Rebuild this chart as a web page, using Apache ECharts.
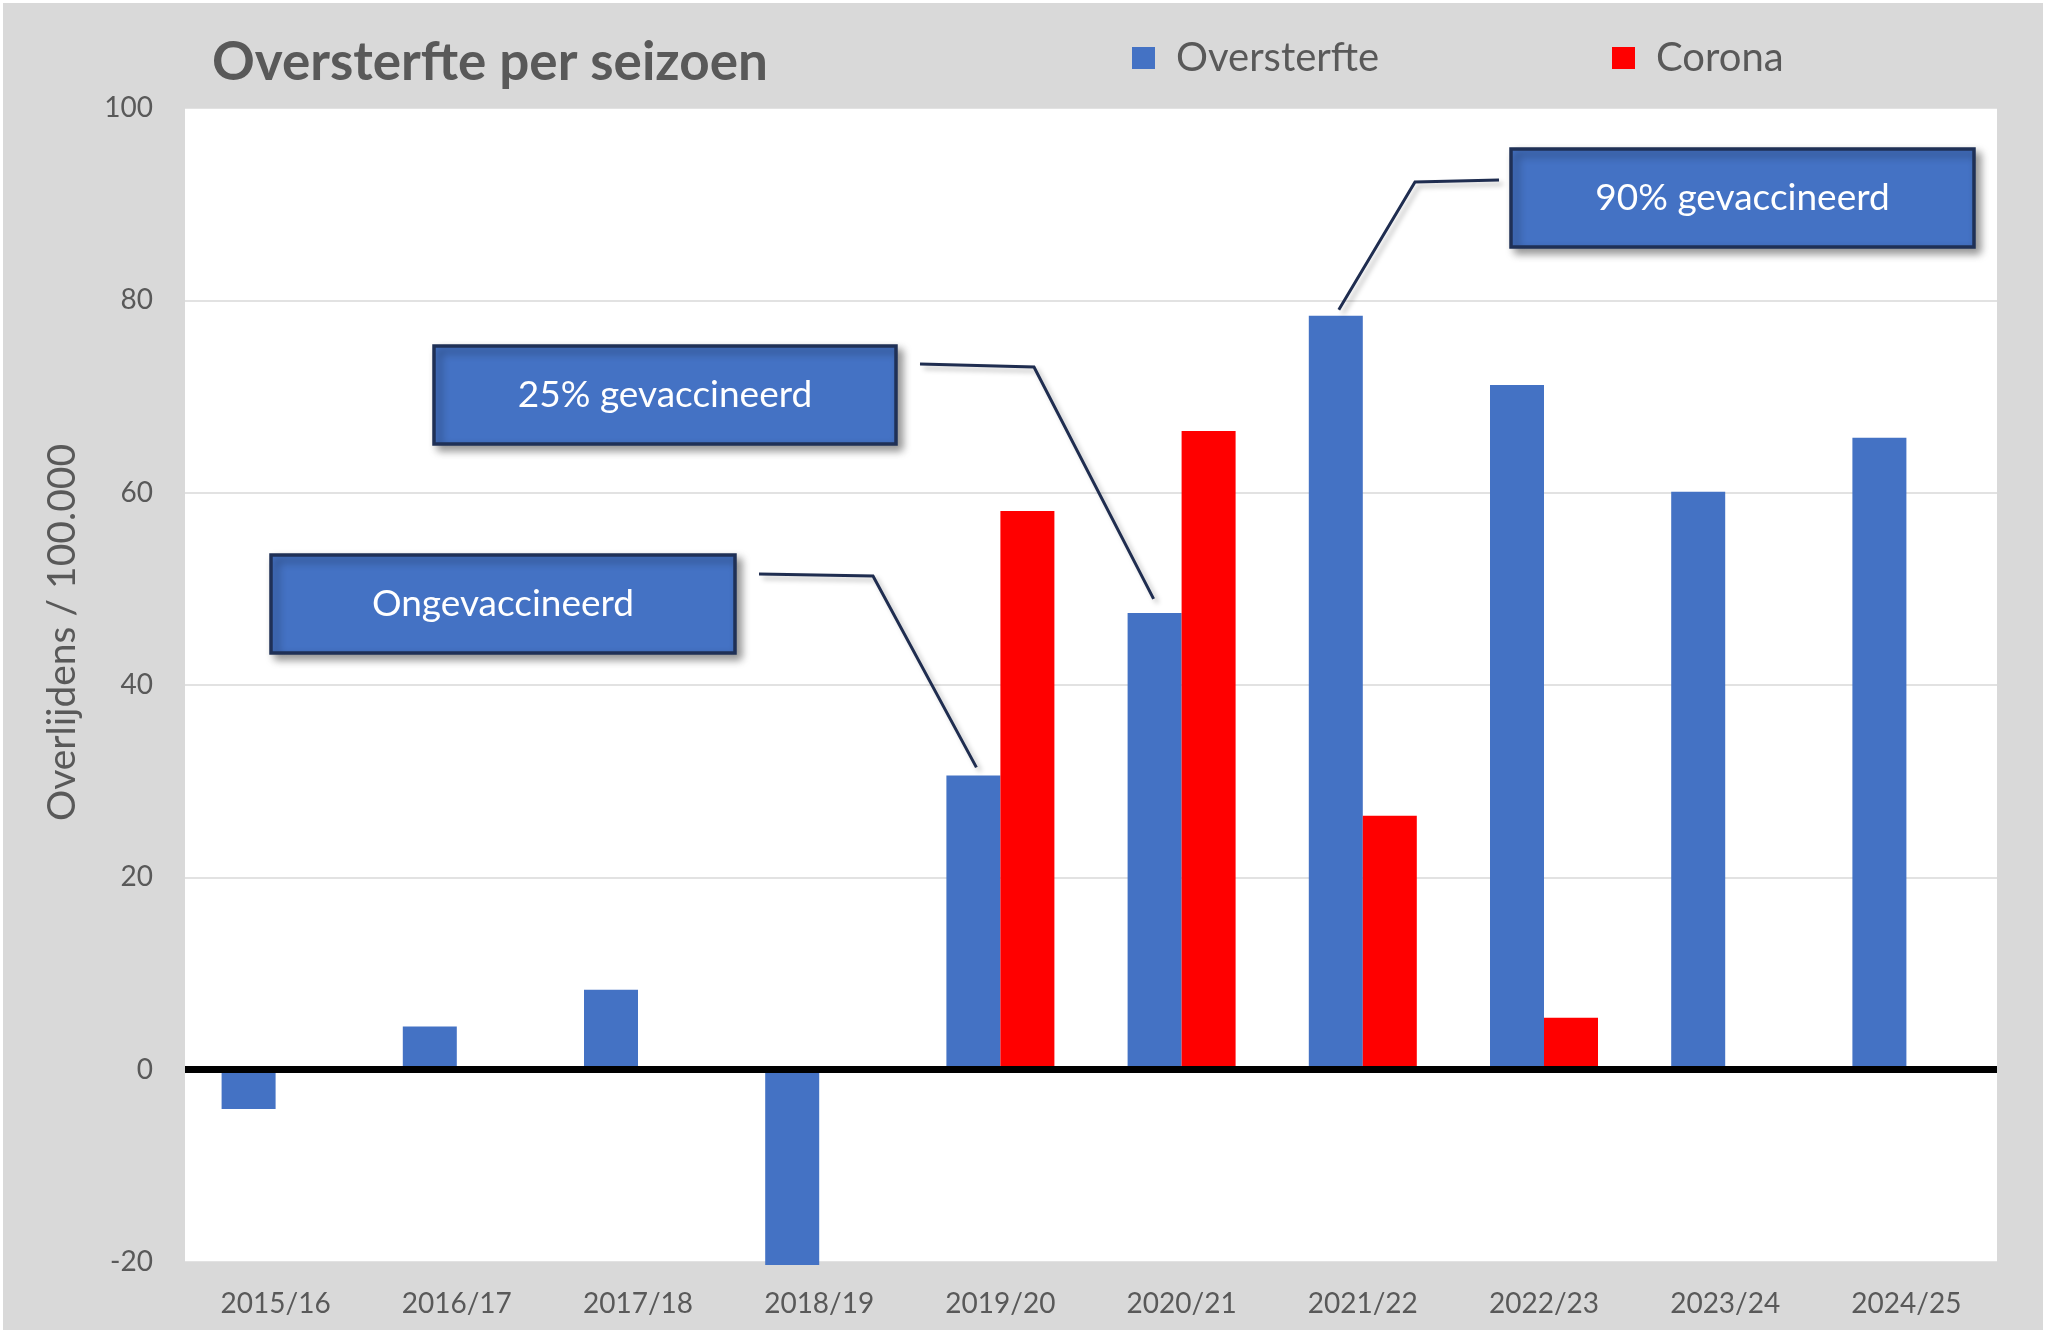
<!DOCTYPE html>
<html>
<head>
<meta charset="utf-8">
<script src="https://cdn.jsdelivr.net/npm/echarts@6/dist/echarts.min.js"></script>
<style>
  html, body { margin: 0; padding: 0; background: #ffffff; width: 2048px; height: 1335px; overflow: hidden; }
  #chart { position: absolute; left: 3px; top: 3px; width: 2040px; height: 1327px; }
</style>
</head>
<body>
<div id="chart"></div>
<script>
const categories = ['2015/16', '2016/17', '2017/18', '2018/19', '2019/20', '2020/21', '2021/22', '2022/23', '2023/24', '2024/25'];
const oversterfte = [-4.1, 4.5, 8.3, -20.3, 30.6, 47.5, 78.4, 71.2, 60.1, 65.7];
const corona = [null, null, null, null, 58.1, 66.4, 26.4, 5.4, null, null];
const yTicks = { min: -20, max: 100, interval: 20 };
const annotations = [
  { text: 'Ongevaccineerd', category: 4 },
  { text: '25% gevaccineerd', category: 5 },
  { text: '90% gevaccineerd', category: 6 }
];

const FONT = 'Lato, "Open Sans", sans-serif';
const GRAY = '#595959';
const BLUE = '#4472c4';
const RED = '#ff0000';
const BAR_W = 54;

const chart = echarts.init(document.getElementById('chart'), null, { renderer: 'canvas' });

chart.setOption({
  backgroundColor: '#d9d9d9',
  animation: false,
  title: {
    text: 'Oversterfte per seizoen',
    left: 209,
    top: 33,
    padding: 0,
    textStyle: { fontFamily: FONT, fontWeight: 'bold', fontSize: 53, color: GRAY }
  },
  legend: [
    {
      data: ['Oversterfte'], left: 1129, top: 35, padding: 0,
      itemWidth: 23, itemHeight: 22, icon: 'rect',
      textStyle: { fontFamily: FONT, fontSize: 40, color: GRAY, padding: [0, 0, 0, 16] }
    },
    {
      data: ['Corona'], left: 1609, top: 35, padding: 0,
      itemWidth: 23, itemHeight: 22, icon: 'rect',
      textStyle: { fontFamily: FONT, fontSize: 40, color: GRAY, padding: [0, 0, 0, 16] }
    }
  ],
  grid: {
    left: 182, right: 46, top: 105, bottom: 68,
    show: true, backgroundColor: '#ffffff', borderWidth: 0
  },
  xAxis: {
    type: 'category',
    data: categories,
    position: 'bottom',
    axisLine: { show: false, onZero: false },
    axisTick: { show: false },
    axisLabel: { fontFamily: FONT, fontSize: 28, color: GRAY, margin: 28 },
    splitLine: { show: false }
  },
  yAxis: {
    type: 'value',
    min: yTicks.min, max: yTicks.max, interval: yTicks.interval,
    axisLine: { show: false },
    axisTick: { show: false },
    axisLabel: { fontFamily: FONT, fontSize: 28, color: GRAY, margin: 32 },
    splitLine: { show: true, lineStyle: { color: '#d9d9d9', width: 1.5 } }
  },
  series: [
    {
      name: 'Oversterfte', type: 'bar', data: oversterfte,
      barWidth: BAR_W, barGap: '0%', clip: false,
      itemStyle: { color: BLUE },
      markLine: {
        silent: true, symbol: ['none', 'none'],
        label: { show: false },
        lineStyle: { color: '#000000', width: 7, type: 'solid' },
        data: [{ yAxis: 0 }],
        z: 10
      }
    },
    {
      name: 'Corona', type: 'bar', data: corona,
      barWidth: BAR_W, barGap: '0%', clip: false,
      itemStyle: { color: RED }
    }
  ]
});

// Annotation callouts anchored to the blue bar tops
const boxes = [
  { x: 268, y: 552, w: 464, h: 98, start: [756, 571], elbow: [870, 573], dx: 3, dy: -8 },
  { x: 431, y: 343, w: 462, h: 98, start: [917, 361], elbow: [1031, 364], dx: -1, dy: -14 },
  { x: 1508, y: 146, w: 463, h: 98, start: [1496, 177], elbow: [1412, 179], dx: 3, dy: -6 }
];

const graphics = [];
graphics.push({
  type: 'text', x: 59.5, y: 629.5, rotation: Math.PI / 2,
  style: { text: 'Overlijdens / 100.000', font: '39px ' + FONT, fill: GRAY, textAlign: 'center', textVerticalAlign: 'middle' }
});
annotations.forEach((a, i) => {
  const b = boxes[i];
  const p = chart.convertToPixel({ gridIndex: 0 }, [a.category, oversterfte[a.category]]);
  const end = [p[0] - BAR_W / 2 + b.dx, p[1] + b.dy];
  graphics.push({
    type: 'polyline', z: 20,
    shape: { points: [b.start, b.elbow, end] },
    style: { stroke: '#1f2d50', lineWidth: 3, fill: null, shadowColor: 'rgba(0,0,0,0.25)', shadowBlur: 5, shadowOffsetX: 4, shadowOffsetY: 4 }
  });
  graphics.push({
    type: 'rect', z: 20,
    shape: { x: b.x, y: b.y, width: b.w, height: b.h },
    style: { fill: BLUE, stroke: '#1f3056', lineWidth: 3.5, shadowColor: 'rgba(0,0,0,0.4)', shadowBlur: 8, shadowOffsetX: 5, shadowOffsetY: 5 }
  });
  graphics.push({
    type: 'text', z: 21,
    x: b.x + b.w / 2, y: b.y + b.h / 2,
    style: { text: a.text, font: '37px ' + FONT, fill: '#ffffff', textAlign: 'center', textVerticalAlign: 'middle' }
  });
});
chart.setOption({ graphic: graphics });
</script>
</body>
</html>
